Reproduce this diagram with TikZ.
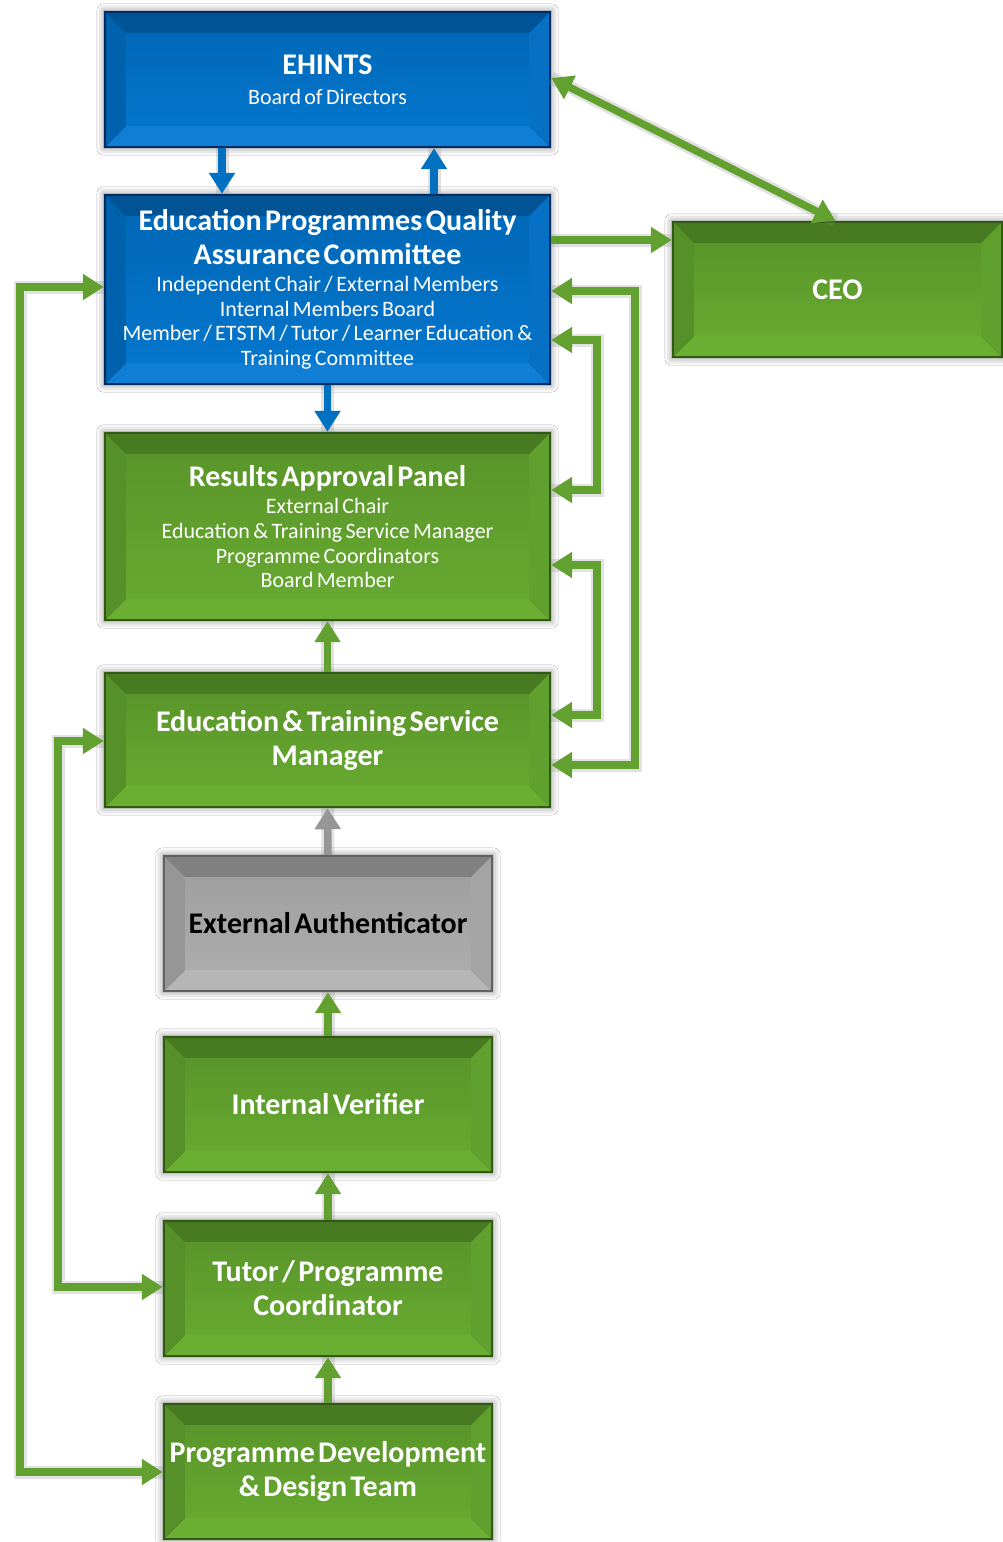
\documentclass[tikz,border=0pt]{standalone}
\usepackage{fontspec}
\setmainfont{Carlito}[WordSpace=1.4]
\usetikzlibrary{arrows.meta,calc,shadows.blur}
\pgfdeclarelayer{bg}
\pgfsetlayers{bg,main}

\definecolor{blueF1}{RGB}{0,104,184}
\definecolor{blueF2}{RGB}{4,118,204}
\definecolor{blueT}{RGB}{0,84,150}
\definecolor{blueB}{RGB}{16,126,212}
\definecolor{blueL}{RGB}{0,98,172}
\definecolor{blueR}{RGB}{6,112,196}
\definecolor{blueK}{RGB}{0,44,96}

\definecolor{greenF1}{RGB}{90,150,42}
\definecolor{greenF2}{RGB}{102,168,48}
\definecolor{greenT}{RGB}{72,122,34}
\definecolor{greenB}{RGB}{106,174,50}
\definecolor{greenL}{RGB}{86,144,40}
\definecolor{greenR}{RGB}{96,160,46}
\definecolor{greenK}{RGB}{50,88,22}

\definecolor{grayF1}{RGB}{160,160,160}
\definecolor{grayF2}{RGB}{172,172,172}
\definecolor{grayT}{RGB}{128,128,128}
\definecolor{grayB}{RGB}{182,182,182}
\definecolor{grayL}{RGB}{150,150,150}
\definecolor{grayR}{RGB}{164,164,164}
\definecolor{grayK}{RGB}{96,96,96}

\definecolor{arrgreen}{RGB}{98,160,48}
\definecolor{arrblue}{RGB}{0,112,192}
\definecolor{arrgray}{RGB}{150,150,150}

\newcommand\myttl{\fontsize{30}{34}\selectfont\bfseries}
\newcommand\mysub{\fontsize{22}{24.6}\selectfont}

\newcommand\bevelbox[2]{%
\begin{pgfonlayer}{bg}
\fill[#2K, blur shadow={shadow xshift=0pt, shadow yshift=0pt, shadow blur radius=7pt, shadow opacity=45}] (#1.north west) rectangle (#1.south east);
\shade[top color=#2F1, bottom color=#2F2] ([shift={(22,22)}]#1.north west) rectangle ([shift={(-22,-22)}]#1.south east);
\fill[#2T] (#1.north west) -- (#1.north east) -- ([shift={(-22,22)}]#1.north east) -- ([shift={(22,22)}]#1.north west) -- cycle;
\fill[#2B] (#1.south west) -- (#1.south east) -- ([shift={(-22,-22)}]#1.south east) -- ([shift={(22,-22)}]#1.south west) -- cycle;
\fill[#2L] (#1.north west) -- (#1.south west) -- ([shift={(22,-22)}]#1.south west) -- ([shift={(22,22)}]#1.north west) -- cycle;
\fill[#2R] (#1.north east) -- (#1.south east) -- ([shift={(-22,-22)}]#1.south east) -- ([shift={(-22,22)}]#1.north east) -- cycle;
\draw[#2K, line width=2.5pt] ([shift={(1.25,1.25)}]#1.north west) rectangle ([shift={(-1.25,-1.25)}]#1.south east);
\end{pgfonlayer}}

\begin{document}
\begin{tikzpicture}[x=1pt,y=-1pt,
  box/.style={inner sep=0pt, align=center, text=white},
  wide/.style={box, minimum width=447pt, text width=440pt},
  narrow/.style={box, minimum width=330pt, text width=326pt},
  >={Triangle[width=25pt,length=21pt]},
  con/.style={line width=7.5pt, line join=miter,
    preaction={draw=black!45, opacity=0.25, line width=13pt, -}},
  garr/.style={con, draw=arrgreen},
  barr/.style={con, draw=arrblue},
  grarr/.style={con, draw=arrgray}]
\useasboundingbox (0,0) rectangle (1003,1542);
\begin{pgfonlayer}{bg}
\fill[white] (0,0) rectangle (1003,1542);
\end{pgfonlayer}

\node[wide, minimum height=137pt] (ehints) at (327.5,79.5)
  {{\myttl EHINTS\par}\vspace{5pt}{\mysub Board of Directors\par}};
\node[wide, minimum height=191pt] (epqac) at (327.5,289.5)
  {{\myttl Education Programmes Quality\\Assurance Committee\par}\vspace{2pt}%
   {\mysub Independent Chair / External Members\\Internal Members Board\\Member / ETSTM / Tutor / Learner Education \&\\Training Committee\par}};
\node[box, minimum width=331pt, minimum height=137pt, text width=320pt] (ceo) at (837.5,289.5)
  {{\myttl CEO\par}};
\node[wide, minimum height=189pt] (rap) at (327.5,526.5)
  {{\myttl Results Approval Panel\par}\vspace{3pt}%
   {\mysub External Chair\\Education \& Training Service Manager\\Programme Coordinators\\Board Member\par}};
\node[wide, minimum height=136pt] (etsm) at (327.5,740)
  {{\myttl Education \& Training Service\\Manager\par}};
\node[narrow, minimum height=137pt, text=black] (ea) at (328,923.5)
  {{\myttl External Authenticator\par}};
\node[narrow, minimum height=137pt] (iv) at (328,1104.5)
  {{\myttl Internal Verifier\par}};
\node[narrow, minimum height=137pt] (tpc) at (328,1288.5)
  {{\myttl Tutor / Programme\\Coordinator\par}};
\node[narrow, minimum height=137pt] (pddt) at (328,1471.5)
  {{\myttl Programme Development\\\& Design Team\par}};

\bevelbox{ehints}{blue}
\bevelbox{epqac}{blue}
\bevelbox{ceo}{green}
\bevelbox{rap}{green}
\bevelbox{etsm}{green}
\bevelbox{ea}{gray}
\bevelbox{iv}{green}
\bevelbox{tpc}{green}
\bevelbox{pddt}{green}

% vertical connectors
\draw[barr,->] ([xshift=-105.5pt]ehints.south) -- ([xshift=-105.5pt]epqac.north);
\draw[barr,->] ([xshift=106.5pt]epqac.north) -- ([xshift=106.5pt]ehints.south);
\draw[barr,->] (epqac.south) -- (rap.north);
\draw[garr,->] (etsm.north) -- (rap.south);
\draw[grarr,->] (ea.north) -- (etsm.south);
\draw[garr,->] (iv.north) -- (ea.south);
\draw[garr,->] (tpc.north) -- (iv.south);
\draw[garr,->] (pddt.north) -- (tpc.south);

% CEO links
\draw[garr,<->] (ehints.east |- 0,78) -- ([xshift=-2pt]ceo.north);
\draw[garr,->] (epqac.east |- 0,240) -- (ceo.west |- 0,240);

% right loops
\draw[garr,<->] (epqac.east |- 0,291) -- (635,291) -- (635,765) -- (etsm.east |- 0,765);
\draw[garr,<->] (epqac.east |- 0,340) -- (597,340) -- (597,490) -- (rap.east |- 0,490);
\draw[garr,<->] (rap.east |- 0,565) -- (597,565) -- (597,715) -- (etsm.east |- 0,715);

% left loops
\draw[garr,<->] (epqac.west |- 0,287) -- (20,287) -- (20,1472) -- (pddt.west |- 0,1472);
\draw[garr,<->] (etsm.west |- 0,741) -- (58,741) -- (58,1287) -- (tpc.west |- 0,1287);
\end{tikzpicture}
\end{document}
